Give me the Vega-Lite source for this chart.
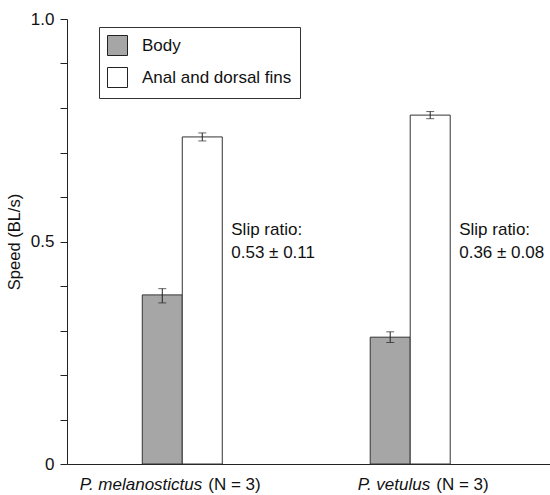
{
  "$schema": "https://vega.github.io/schema/vega-lite/v6.json",
  "width": 483,
  "height": 445,
  "autosize": {"type": "none"},
  "padding": {"left": 67, "top": 19, "right": 0, "bottom": 31},
  "config": {
    "view": {"stroke": null},
    "font": "Liberation Sans",
    "axis": {"domainColor": "#222", "tickColor": "#222", "labelColor": "#111", "titleColor": "#111", "grid": false}
  },
  "datasets": {
    "bars": [
      {"species": "P. melanostictus", "group": "Body", "value": 0.38, "lo": 0.362, "hi": 0.394},
      {"species": "P. melanostictus", "group": "Anal and dorsal fins", "value": 0.735, "lo": 0.726, "hi": 0.744},
      {"species": "P. vetulus", "group": "Body", "value": 0.285, "lo": 0.273, "hi": 0.297},
      {"species": "P. vetulus", "group": "Anal and dorsal fins", "value": 0.784, "lo": 0.776, "hi": 0.792}
    ],
    "labels": [
      {"species": "P. melanostictus", "name": "P. melanostictus", "n": "(N = 3)", "slip": "Slip ratio:\n0.53 ± 0.11"},
      {"species": "P. vetulus", "name": "P. vetulus", "n": "(N = 3)", "slip": "Slip ratio:\n0.36 ± 0.08"}
    ]
  },
  "encoding": {
    "x": {
      "field": "species", "type": "nominal",
      "scale": {"domain": ["P. melanostictus", "P. vetulus"], "paddingInner": 0.649, "paddingOuter": 0.384, "align": 0.43},
      "axis": {"labels": false, "ticks": false, "title": null, "domain": true}
    }
  },
  "layer": [
    {
      "data": {"name": "bars"},
      "mark": {"type": "bar", "stroke": "#333", "strokeWidth": 1},
      "encoding": {
        "xOffset": {"field": "group", "type": "nominal", "scale": {"domain": ["Body", "Anal and dorsal fins"], "paddingInner": 0, "paddingOuter": 0}},
        "y": {
          "field": "value", "type": "quantitative",
          "scale": {"domain": [0, 1], "nice": false},
          "axis": {
            "title": "Speed (BL/s)", "titleFontSize": 16.5, "titleFontWeight": "normal", "titlePadding": 8,
            "values": [0, 0.1, 0.2, 0.3, 0.4, 0.5, 0.6, 0.7, 0.8, 0.9, 1],
            "labelExpr": "datum.value == 0 ? '0' : (datum.value == 0.5 ? '0.5' : (datum.value == 1 ? '1.0' : ''))",
            "tickSize": 7, "tickWidth": 1, "labelPadding": 6, "labelFontSize": 17
          }
        },
        "fill": {
          "field": "group", "type": "nominal",
          "scale": {"domain": ["Body", "Anal and dorsal fins"], "range": ["#a6a6a6", "#ffffff"]},
          "legend": {
            "orient": "none", "legendX": 32, "legendY": 8, "title": null,
            "symbolType": "square", "symbolSize": 400, "symbolStrokeColor": "#222", "symbolStrokeWidth": 1,
            "labelFontSize": 17, "labelOffset": 14, "rowPadding": 7, "padding": 8,
            "strokeColor": "#333", "labelColor": "#111"
          }
        }
      }
    },
    {
      "data": {"name": "bars"},
      "mark": {"type": "rule", "color": "#222", "strokeWidth": 1},
      "encoding": {
        "xOffset": {"field": "group", "type": "nominal", "scale": {"domain": ["Body", "Anal and dorsal fins"], "paddingInner": 0, "paddingOuter": 0}},
        "y": {"field": "lo", "type": "quantitative"},
        "y2": {"field": "hi"}
      }
    },
    {
      "data": {"name": "bars"},
      "mark": {"type": "tick", "color": "#222", "size": 8, "thickness": 1},
      "encoding": {
        "xOffset": {"field": "group", "type": "nominal", "scale": {"domain": ["Body", "Anal and dorsal fins"], "paddingInner": 0, "paddingOuter": 0}},
        "y": {"field": "lo", "type": "quantitative"}
      }
    },
    {
      "data": {"name": "bars"},
      "mark": {"type": "tick", "color": "#222", "size": 8, "thickness": 1},
      "encoding": {
        "xOffset": {"field": "group", "type": "nominal", "scale": {"domain": ["Body", "Anal and dorsal fins"], "paddingInner": 0, "paddingOuter": 0}},
        "y": {"field": "hi", "type": "quantitative"}
      }
    },
    {
      "data": {"name": "labels"},
      "mark": {"type": "text", "align": "left", "baseline": "alphabetic", "dx": 49, "dy": -7, "fontSize": 17, "lineBreak": "\n", "lineHeight": 23, "color": "#111"},
      "encoding": {
        "y": {"datum": 0.5, "type": "quantitative"},
        "text": {"field": "slip"}
      }
    },
    {
      "data": {"name": "labels"},
      "mark": {"type": "text", "align": "right", "baseline": "alphabetic", "dx": 20, "dy": 26, "fontSize": 17, "fontStyle": "italic", "color": "#111"},
      "encoding": {
        "y": {"datum": 0, "type": "quantitative"},
        "text": {"field": "name"}
      }
    },
    {
      "data": {"name": "labels"},
      "mark": {"type": "text", "align": "left", "baseline": "alphabetic", "dx": 26, "dy": 26, "fontSize": 17, "color": "#111"},
      "encoding": {
        "y": {"datum": 0, "type": "quantitative"},
        "text": {"field": "n"}
      }
    }
  ]
}
